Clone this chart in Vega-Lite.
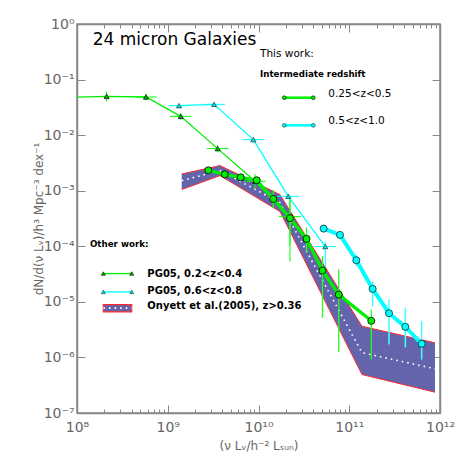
{
  "$schema": "https://vega.github.io/schema/vega-lite/v6.json",
  "width": 363,
  "height": 389,
  "autosize": "none",
  "padding": {"left": 77, "top": 24, "right": 23, "bottom": 50},
  "background": "white",
  "datasets": {
    "onyett": [
      {"L": 1.426e9, "lo": 1.05e-3, "hi": 2.00e-3, "mid": 1.52e-3},
      {"L": 3.767e9, "lo": 1.87e-3, "hi": 2.83e-3, "mid": 2.30e-3},
      {"L": 1.726e10, "lo": 4.21e-4, "hi": 8.5e-4, "mid": 6.1e-4},
      {"L": 1.380e11, "lo": 4.92e-7, "hi": 3.64e-6, "mid": 1.22e-6},
      {"L": 8.81e11, "lo": 2.37e-7, "hi": 1.83e-6, "mid": 6.24e-7}
    ],
    "pg02": [
      {"L": 7.94e7, "phi": 0.048},
      {"L": 2.12e8, "phi": 0.0499, "ylo": 0.0405, "yhi": 0.061},
      {"L": 5.754e8, "phi": 0.0486, "xlo": 4.366e8, "xhi": 7.584e8, "ylo": 0.042, "yhi": 0.056},
      {"L": 1.390e9, "phi": 0.0218, "xlo": 1.055e9, "xhi": 1.832e9, "ylo": 0.019, "yhi": 0.025},
      {"L": 3.548e9, "phi": 5.72e-3, "xlo": 2.692e9, "xhi": 4.676e9, "ylo": 5.0e-3, "yhi": 6.6e-3},
      {"L": 9.141e9, "phi": 1.48e-3, "xlo": 6.936e9, "xhi": 1.205e10, "ylo": 1.1e-3, "yhi": 2.0e-3},
      {"L": 2.223e10, "phi": 3.42e-4, "xlo": 1.687e10, "xhi": 2.93e10, "ylo": 5.3e-5, "yhi": 6.9e-4}
    ],
    "pg06": [
      {"L": 1.33e9, "phi": 0.0339, "xlo": 1.009e9, "xhi": 1.753e9},
      {"L": 3.236e9, "phi": 0.0358, "xlo": 2.455e9, "xhi": 4.265e9},
      {"L": 8.77e9, "phi": 8.3e-3, "xlo": 6.654e9, "xhi": 1.156e10},
      {"L": 2.128e10, "phi": 7.93e-4, "xlo": 1.615e10, "xhi": 2.805e10},
      {"L": 5.445e10, "phi": 9.88e-5, "xlo": 4.131e10, "xhi": 7.177e10, "ylo": 4.14e-5, "yhi": 1.2e-4}
    ],
    "low": [
      {"L": 2.80e9, "phi": 2.33e-3},
      {"L": 4.246e9, "phi": 1.97e-3},
      {"L": 6.368e9, "phi": 1.74e-3},
      {"L": 9.55e9, "phi": 1.54e-3},
      {"L": 1.455e10, "phi": 7.12e-4, "ylo": 4.9e-4, "yhi": 1.03e-3},
      {"L": 2.223e10, "phi": 3.21e-4, "ylo": 1.07e-4, "yhi": 6.92e-4},
      {"L": 3.381e10, "phi": 1.36e-4, "ylo": 7.7e-5, "yhi": 2.17e-4},
      {"L": 5.07e10, "phi": 3.66e-5, "ylo": 5.15e-6, "yhi": 6.6e-5},
      {"L": 7.656e10, "phi": 1.35e-5, "ylo": 1.24e-6, "yhi": 3.81e-5},
      {"L": 1.75e11, "phi": 4.55e-6, "ylo": 9.18e-7, "yhi": 7.28e-6}
    ],
    "high": [
      {"L": 5.224e10, "phi": 2.08e-4},
      {"L": 7.907e10, "phi": 1.60e-4},
      {"L": 1.197e11, "phi": 5.60e-5, "ylo": 4.37e-5, "yhi": 7.1e-5},
      {"L": 1.811e11, "phi": 1.71e-5, "ylo": 8.33e-6, "yhi": 2.35e-5},
      {"L": 2.742e11, "phi": 6.24e-6, "ylo": 1.71e-6, "yhi": 1.1e-5},
      {"L": 4.150e11, "phi": 3.55e-6, "ylo": 1.51e-6, "yhi": 7.9e-6},
      {"L": 6.281e11, "phi": 1.76e-6, "ylo": 9.16e-7, "yhi": 4.48e-6}
    ],
    "keys": [
      {"key": "low", "L": 1.923e10, "phi": 0.0472},
      {"key": "low", "L": 4.018e10, "phi": 0.0472},
      {"key": "high", "L": 1.923e10, "phi": 0.0150},
      {"key": "high", "L": 4.018e10, "phi": 0.0150},
      {"key": "pg02", "L": 1.95e8, "phi": 3.23e-5},
      {"key": "pg02", "L": 4.01e8, "phi": 3.23e-5},
      {"key": "pg06", "L": 1.95e8, "phi": 1.51e-5},
      {"key": "pg06", "L": 4.01e8, "phi": 1.51e-5}
    ],
    "swatch": [
      {"L1": 1.95e8, "L2": 4.01e8, "lo": 6.61e-6, "hi": 8.94e-6, "mid": 7.7e-6}
    ],
    "notes": [
      {"text": "24 micron Galaxies", "L": 1.49e8, "phi": 0.515, "kind": "title"},
      {"text": "This work:", "L": 1.04e10, "phi": 0.292, "kind": "head"},
      {"text": "Intermediate redshift", "L": 1.04e10, "phi": 0.1277, "kind": "bold"},
      {"text": "0.25<z<0.5", "L": 5.875e10, "phi": 0.0557, "kind": "key"},
      {"text": "0.5<z<1.0", "L": 5.875e10, "phi": 0.0177, "kind": "key"},
      {"text": "Other work:", "L": 1.39e8, "phi": 1.12e-4, "kind": "bold"},
      {"text": "PG05, 0.2<z<0.4", "L": 5.96e8, "phi": 3.23e-5, "kind": "bkey"},
      {"text": "PG05, 0.6<z<0.8", "L": 5.96e8, "phi": 1.6e-5, "kind": "bkey"},
      {"text": "Onyett et al.(2005), z>0.36", "L": 5.96e8, "phi": 8.33e-6, "kind": "bkey"}
    ]
  },
  "resolve": {"axis": {"x": "independent", "y": "independent"}},
  "layer": [
    {
      "data": {"name": "onyett"},
      "mark": {"type": "area", "fill": "#6464ac", "clip": true},
      "encoding": {
        "x": {"field": "L", "type": "quantitative", "scale": {"type": "log", "domain": [1e8, 1e12]},
          "axis": {"orient": "bottom", "values": [1e8, 1e9, 1e10, 1e11, 1e12], "tickSize": -8, "labelPadding": 15,
            "labelExpr": "'10' + (datum.value < 0.5 ? '⁻' : '') + (abs(round(log(datum.value)/LN10)) >= 10 ? '¹' : '') + substring('⁰¹²³⁴⁵⁶⁷⁸⁹', abs(round(log(datum.value)/LN10)) % 10, abs(round(log(datum.value)/LN10)) % 10 + 1)",
            "labelFontSize": 14, "labelFlush": false, "labelOverlap": false,
            "title": "(ν Lᵥ/h⁻² Lₛᵤₙ)", "titleFontSize": 12, "titlePadding": 6}},
        "y": {"field": "lo", "type": "quantitative", "scale": {"type": "log", "domain": [1e-7, 1]},
          "axis": {"orient": "left", "values": [1e-7, 1e-6, 1e-5, 1e-4, 1e-3, 1e-2, 1e-1, 1], "tickSize": -8, "labelPadding": 11,
            "labelExpr": "'10' + (datum.value < 0.5 ? '⁻' : '') + (abs(round(log(datum.value)/LN10)) >= 10 ? '¹' : '') + substring('⁰¹²³⁴⁵⁶⁷⁸⁹', abs(round(log(datum.value)/LN10)) % 10, abs(round(log(datum.value)/LN10)) % 10 + 1)",
            "labelFontSize": 14, "labelFlush": false, "labelOverlap": false, "labelBaseline": "middle",
            "title": "dN/d(ν Lᵥ)/h³ Mpc⁻³ dex⁻¹", "titleFontSize": 12, "titlePadding": -2}},
        "y2": {"field": "hi"}
      }
    },
    {
      "data": {"name": "onyett"},
      "mark": {"type": "line", "stroke": "#ff2a2a", "strokeWidth": 1, "clip": true},
      "encoding": {
        "x": {"field": "L", "type": "quantitative", "scale": {"type": "log", "domain": [1e8, 1e12]},
          "axis": {"orient": "bottom", "values": [2e8,3e8,4e8,5e8,6e8,7e8,8e8,9e8,2e9,3e9,4e9,5e9,6e9,7e9,8e9,9e9,2e10,3e10,4e10,5e10,6e10,7e10,8e10,9e10,2e11,3e11,4e11,5e11,6e11,7e11,8e11,9e11], "tickSize": -4, "labels": false, "domain": false, "title": null}},
        "y": {"field": "hi", "type": "quantitative", "scale": {"type": "log", "domain": [1e-7, 1]},
          "axis": {"orient": "right", "values": [1e-7, 1e-6, 1e-5, 1e-4, 1e-3, 1e-2, 1e-1, 1], "tickSize": -8, "labels": false, "title": null}}
      }
    },
    {
      "data": {"name": "onyett"},
      "mark": {"type": "line", "stroke": "#ff2a2a", "strokeWidth": 1, "clip": true},
      "encoding": {
        "x": {"field": "L", "type": "quantitative", "scale": {"type": "log", "domain": [1e8, 1e12]},
          "axis": {"orient": "top", "values": [1e8, 1e9, 1e10, 1e11, 1e12], "tickSize": -8, "labels": false, "title": null}},
        "y": {"field": "lo", "type": "quantitative", "scale": {"type": "log", "domain": [1e-7, 1]}, "axis": null}
      }
    },
    {
      "data": {"name": "onyett"},
      "mark": {"type": "line", "stroke": "white", "strokeWidth": 1.6, "strokeDash": [1.6, 4], "clip": true},
      "encoding": {
        "x": {"field": "L", "type": "quantitative", "scale": {"type": "log", "domain": [1e8, 1e12]},
          "axis": {"orient": "top", "values": [2e8,3e8,4e8,5e8,6e8,7e8,8e8,9e8,2e9,3e9,4e9,5e9,6e9,7e9,8e9,9e9,2e10,3e10,4e10,5e10,6e10,7e10,8e10,9e10,2e11,3e11,4e11,5e11,6e11,7e11,8e11,9e11], "tickSize": -4, "labels": false, "domain": false, "title": null}},
        "y": {"field": "mid", "type": "quantitative", "scale": {"type": "log", "domain": [1e-7, 1]}, "axis": null}
      }
    },
    {
      "data": {"name": "pg02"},
      "mark": {"type": "line", "stroke": "#00ee00", "strokeWidth": 1.3, "clip": true},
      "encoding": {
        "x": {"field": "L", "type": "quantitative", "scale": {"type": "log", "domain": [1e8, 1e12]}, "axis": null},
        "y": {"field": "phi", "type": "quantitative", "scale": {"type": "log", "domain": [1e-7, 1]}, "axis": null}
      }
    },
    {
      "data": {"name": "pg02"},
      "transform": [{"filter": "isValid(datum.xlo)"}],
      "mark": {"type": "rule", "stroke": "#00ff00", "strokeWidth": 1, "clip": true},
      "encoding": {
        "x": {"field": "xlo", "type": "quantitative", "scale": {"type": "log", "domain": [1e8, 1e12]}, "axis": null},
        "x2": {"field": "xhi"},
        "y": {"field": "phi", "type": "quantitative", "scale": {"type": "log", "domain": [1e-7, 1]}, "axis": null}
      }
    },
    {
      "data": {"name": "pg02"},
      "transform": [{"filter": "isValid(datum.ylo)"}],
      "mark": {"type": "rule", "stroke": "#00ff00", "strokeWidth": 1, "clip": true},
      "encoding": {
        "x": {"field": "L", "type": "quantitative", "scale": {"type": "log", "domain": [1e8, 1e12]}, "axis": null},
        "y": {"field": "ylo", "type": "quantitative", "scale": {"type": "log", "domain": [1e-7, 1]}, "axis": null},
        "y2": {"field": "yhi"}
      }
    },
    {
      "data": {"name": "pg02"},
      "mark": {"type": "point", "shape": "triangle-up", "filled": true, "fill": "#00b400", "stroke": "#000000", "strokeWidth": 0.7, "size": 26, "opacity": 1, "clip": true},
      "encoding": {
        "x": {"field": "L", "type": "quantitative", "scale": {"type": "log", "domain": [1e8, 1e12]}, "axis": null},
        "y": {"field": "phi", "type": "quantitative", "scale": {"type": "log", "domain": [1e-7, 1]}, "axis": null}
      }
    },
    {
      "data": {"name": "pg06"},
      "mark": {"type": "line", "stroke": "#00ffff", "strokeWidth": 1.3, "clip": true},
      "encoding": {
        "x": {"field": "L", "type": "quantitative", "scale": {"type": "log", "domain": [1e8, 1e12]}, "axis": null},
        "y": {"field": "phi", "type": "quantitative", "scale": {"type": "log", "domain": [1e-7, 1]}, "axis": null}
      }
    },
    {
      "data": {"name": "pg06"},
      "transform": [{"filter": "isValid(datum.xlo)"}],
      "mark": {"type": "rule", "stroke": "#00ffff", "strokeWidth": 1, "clip": true},
      "encoding": {
        "x": {"field": "xlo", "type": "quantitative", "scale": {"type": "log", "domain": [1e8, 1e12]}, "axis": null},
        "x2": {"field": "xhi"},
        "y": {"field": "phi", "type": "quantitative", "scale": {"type": "log", "domain": [1e-7, 1]}, "axis": null}
      }
    },
    {
      "data": {"name": "pg06"},
      "transform": [{"filter": "isValid(datum.ylo)"}],
      "mark": {"type": "rule", "stroke": "#00ffff", "strokeWidth": 1, "clip": true},
      "encoding": {
        "x": {"field": "L", "type": "quantitative", "scale": {"type": "log", "domain": [1e8, 1e12]}, "axis": null},
        "y": {"field": "ylo", "type": "quantitative", "scale": {"type": "log", "domain": [1e-7, 1]}, "axis": null},
        "y2": {"field": "yhi"}
      }
    },
    {
      "data": {"name": "pg06"},
      "mark": {"type": "point", "shape": "triangle-up", "filled": true, "fill": "#00e0e0", "stroke": "#004040", "strokeWidth": 0.7, "size": 26, "opacity": 1, "clip": true},
      "encoding": {
        "x": {"field": "L", "type": "quantitative", "scale": {"type": "log", "domain": [1e8, 1e12]}, "axis": null},
        "y": {"field": "phi", "type": "quantitative", "scale": {"type": "log", "domain": [1e-7, 1]}, "axis": null}
      }
    },
    {
      "data": {"name": "low"},
      "transform": [{"filter": "isValid(datum.ylo)"}],
      "mark": {"type": "rule", "stroke": "#22ff22", "strokeWidth": 1.3, "clip": true},
      "encoding": {
        "x": {"field": "L", "type": "quantitative", "scale": {"type": "log", "domain": [1e8, 1e12]}, "axis": null},
        "y": {"field": "ylo", "type": "quantitative", "scale": {"type": "log", "domain": [1e-7, 1]}, "axis": null},
        "y2": {"field": "yhi"}
      }
    },
    {
      "data": {"name": "low"},
      "mark": {"type": "line", "stroke": "#00ee00", "strokeWidth": 3.2, "clip": true},
      "encoding": {
        "x": {"field": "L", "type": "quantitative", "scale": {"type": "log", "domain": [1e8, 1e12]}, "axis": null},
        "y": {"field": "phi", "type": "quantitative", "scale": {"type": "log", "domain": [1e-7, 1]}, "axis": null}
      }
    },
    {
      "data": {"name": "low"},
      "mark": {"type": "point", "shape": "circle", "filled": true, "fill": "#00ee00", "stroke": "#000000", "strokeWidth": 0.8, "size": 50, "opacity": 1, "clip": true},
      "encoding": {
        "x": {"field": "L", "type": "quantitative", "scale": {"type": "log", "domain": [1e8, 1e12]}, "axis": null},
        "y": {"field": "phi", "type": "quantitative", "scale": {"type": "log", "domain": [1e-7, 1]}, "axis": null}
      }
    },
    {
      "data": {"name": "high"},
      "transform": [{"filter": "isValid(datum.ylo)"}],
      "mark": {"type": "rule", "stroke": "#44ffff", "strokeWidth": 1.5, "clip": true},
      "encoding": {
        "x": {"field": "L", "type": "quantitative", "scale": {"type": "log", "domain": [1e8, 1e12]}, "axis": null},
        "y": {"field": "ylo", "type": "quantitative", "scale": {"type": "log", "domain": [1e-7, 1]}, "axis": null},
        "y2": {"field": "yhi"}
      }
    },
    {
      "data": {"name": "high"},
      "mark": {"type": "line", "stroke": "#00ffff", "strokeWidth": 4, "clip": true},
      "encoding": {
        "x": {"field": "L", "type": "quantitative", "scale": {"type": "log", "domain": [1e8, 1e12]}, "axis": null},
        "y": {"field": "phi", "type": "quantitative", "scale": {"type": "log", "domain": [1e-7, 1]}, "axis": null}
      }
    },
    {
      "data": {"name": "high"},
      "mark": {"type": "point", "shape": "circle", "filled": true, "fill": "#00ffff", "stroke": "#003030", "strokeWidth": 0.8, "size": 50, "opacity": 1, "clip": true},
      "encoding": {
        "x": {"field": "L", "type": "quantitative", "scale": {"type": "log", "domain": [1e8, 1e12]}, "axis": null},
        "y": {"field": "phi", "type": "quantitative", "scale": {"type": "log", "domain": [1e-7, 1]}, "axis": null}
      }
    },
    {
      "data": {"name": "keys"},
      "transform": [{"filter": "datum.key == 'low'"}],
      "mark": {"type": "line", "stroke": "#00ee00", "strokeWidth": 2.5, "point": {"filled": true, "fill": "#00ee00", "stroke": "#000000", "strokeWidth": 0.6, "size": 14, "opacity": 1}},
      "encoding": {
        "x": {"field": "L", "type": "quantitative", "scale": {"type": "log", "domain": [1e8, 1e12]}, "axis": null},
        "y": {"field": "phi", "type": "quantitative", "scale": {"type": "log", "domain": [1e-7, 1]}, "axis": null}
      }
    },
    {
      "data": {"name": "keys"},
      "transform": [{"filter": "datum.key == 'high'"}],
      "mark": {"type": "line", "stroke": "#00ffff", "strokeWidth": 2.5, "point": {"filled": true, "fill": "#00ffff", "stroke": "#003030", "strokeWidth": 0.6, "size": 14, "opacity": 1}},
      "encoding": {
        "x": {"field": "L", "type": "quantitative", "scale": {"type": "log", "domain": [1e8, 1e12]}, "axis": null},
        "y": {"field": "phi", "type": "quantitative", "scale": {"type": "log", "domain": [1e-7, 1]}, "axis": null}
      }
    },
    {
      "data": {"name": "keys"},
      "transform": [{"filter": "datum.key == 'pg02'"}],
      "mark": {"type": "line", "stroke": "#00ee00", "strokeWidth": 1.3, "point": {"shape": "triangle-up", "filled": true, "fill": "#00b400", "stroke": "#000000", "strokeWidth": 0.6, "size": 16, "opacity": 1}},
      "encoding": {
        "x": {"field": "L", "type": "quantitative", "scale": {"type": "log", "domain": [1e8, 1e12]}, "axis": null},
        "y": {"field": "phi", "type": "quantitative", "scale": {"type": "log", "domain": [1e-7, 1]}, "axis": null}
      }
    },
    {
      "data": {"name": "keys"},
      "transform": [{"filter": "datum.key == 'pg06'"}],
      "mark": {"type": "line", "stroke": "#00ffff", "strokeWidth": 1.3, "point": {"shape": "triangle-up", "filled": true, "fill": "#00e0e0", "stroke": "#004040", "strokeWidth": 0.6, "size": 16, "opacity": 1}},
      "encoding": {
        "x": {"field": "L", "type": "quantitative", "scale": {"type": "log", "domain": [1e8, 1e12]}, "axis": null},
        "y": {"field": "phi", "type": "quantitative", "scale": {"type": "log", "domain": [1e-7, 1]}, "axis": null}
      }
    },
    {
      "data": {"name": "swatch"},
      "mark": {"type": "rect", "fill": "#6464ac", "stroke": "#ff2a2a", "strokeWidth": 1.2},
      "encoding": {
        "x": {"field": "L1", "type": "quantitative", "scale": {"type": "log", "domain": [1e8, 1e12]}, "axis": null},
        "x2": {"field": "L2"},
        "y": {"field": "lo", "type": "quantitative", "scale": {"type": "log", "domain": [1e-7, 1]}, "axis": null},
        "y2": {"field": "hi"}
      }
    },
    {
      "data": {"name": "swatch"},
      "mark": {"type": "rule", "stroke": "white", "strokeWidth": 1.6, "strokeDash": [1.6, 4]},
      "encoding": {
        "x": {"field": "L1", "type": "quantitative", "scale": {"type": "log", "domain": [1e8, 1e12]}, "axis": null},
        "x2": {"field": "L2"},
        "y": {"field": "mid", "type": "quantitative", "scale": {"type": "log", "domain": [1e-7, 1]}, "axis": null}
      }
    },
    {
      "data": {"name": "notes"},
      "transform": [{"filter": "datum.kind == 'title'"}],
      "mark": {"type": "text", "align": "left", "baseline": "middle", "font": "DejaVu Sans", "fontSize": 17, "color": "black"},
      "encoding": {
        "x": {"field": "L", "type": "quantitative", "scale": {"type": "log", "domain": [1e8, 1e12]}, "axis": null},
        "y": {"field": "phi", "type": "quantitative", "scale": {"type": "log", "domain": [1e-7, 1]}, "axis": null},
        "text": {"field": "text"}
      }
    },
    {
      "data": {"name": "notes"},
      "transform": [{"filter": "datum.kind == 'head'"}],
      "mark": {"type": "text", "align": "left", "baseline": "middle", "font": "DejaVu Sans", "fontSize": 10.5, "color": "black"},
      "encoding": {
        "x": {"field": "L", "type": "quantitative", "scale": {"type": "log", "domain": [1e8, 1e12]}, "axis": null},
        "y": {"field": "phi", "type": "quantitative", "scale": {"type": "log", "domain": [1e-7, 1]}, "axis": null},
        "text": {"field": "text"}
      }
    },
    {
      "data": {"name": "notes"},
      "transform": [{"filter": "datum.kind == 'bold'"}],
      "mark": {"type": "text", "align": "left", "baseline": "middle", "font": "DejaVu Sans", "fontWeight": "bold", "fontSize": 8.7, "color": "black"},
      "encoding": {
        "x": {"field": "L", "type": "quantitative", "scale": {"type": "log", "domain": [1e8, 1e12]}, "axis": null},
        "y": {"field": "phi", "type": "quantitative", "scale": {"type": "log", "domain": [1e-7, 1]}, "axis": null},
        "text": {"field": "text"}
      }
    },
    {
      "data": {"name": "notes"},
      "transform": [{"filter": "datum.kind == 'key'"}],
      "mark": {"type": "text", "align": "left", "baseline": "middle", "font": "DejaVu Sans", "fontSize": 10.5, "color": "black"},
      "encoding": {
        "x": {"field": "L", "type": "quantitative", "scale": {"type": "log", "domain": [1e8, 1e12]}, "axis": null},
        "y": {"field": "phi", "type": "quantitative", "scale": {"type": "log", "domain": [1e-7, 1]}, "axis": null},
        "text": {"field": "text"}
      }
    },
    {
      "data": {"name": "notes"},
      "transform": [{"filter": "datum.kind == 'bkey'"}],
      "mark": {"type": "text", "align": "left", "baseline": "middle", "font": "DejaVu Sans", "fontWeight": "bold", "fontSize": 10, "color": "black"},
      "encoding": {
        "x": {"field": "L", "type": "quantitative", "scale": {"type": "log", "domain": [1e8, 1e12]}, "axis": null},
        "y": {"field": "phi", "type": "quantitative", "scale": {"type": "log", "domain": [1e-7, 1]}, "axis": null},
        "text": {"field": "text"}
      }
    }
  ],
  "config": {
    "view": {"stroke": "#888888", "strokeWidth": 1.5},
    "axis": {
      "grid": false,
      "domainColor": "#888888",
      "domainWidth": 1.5,
      "tickColor": "#888888",
      "tickWidth": 1,
      "labelFont": "DejaVu Sans",
      "titleFont": "DejaVu Sans",
      "labelColor": "#666666",
      "titleColor": "#666666",
      "titleFontWeight": "normal"
    }
  }
}
